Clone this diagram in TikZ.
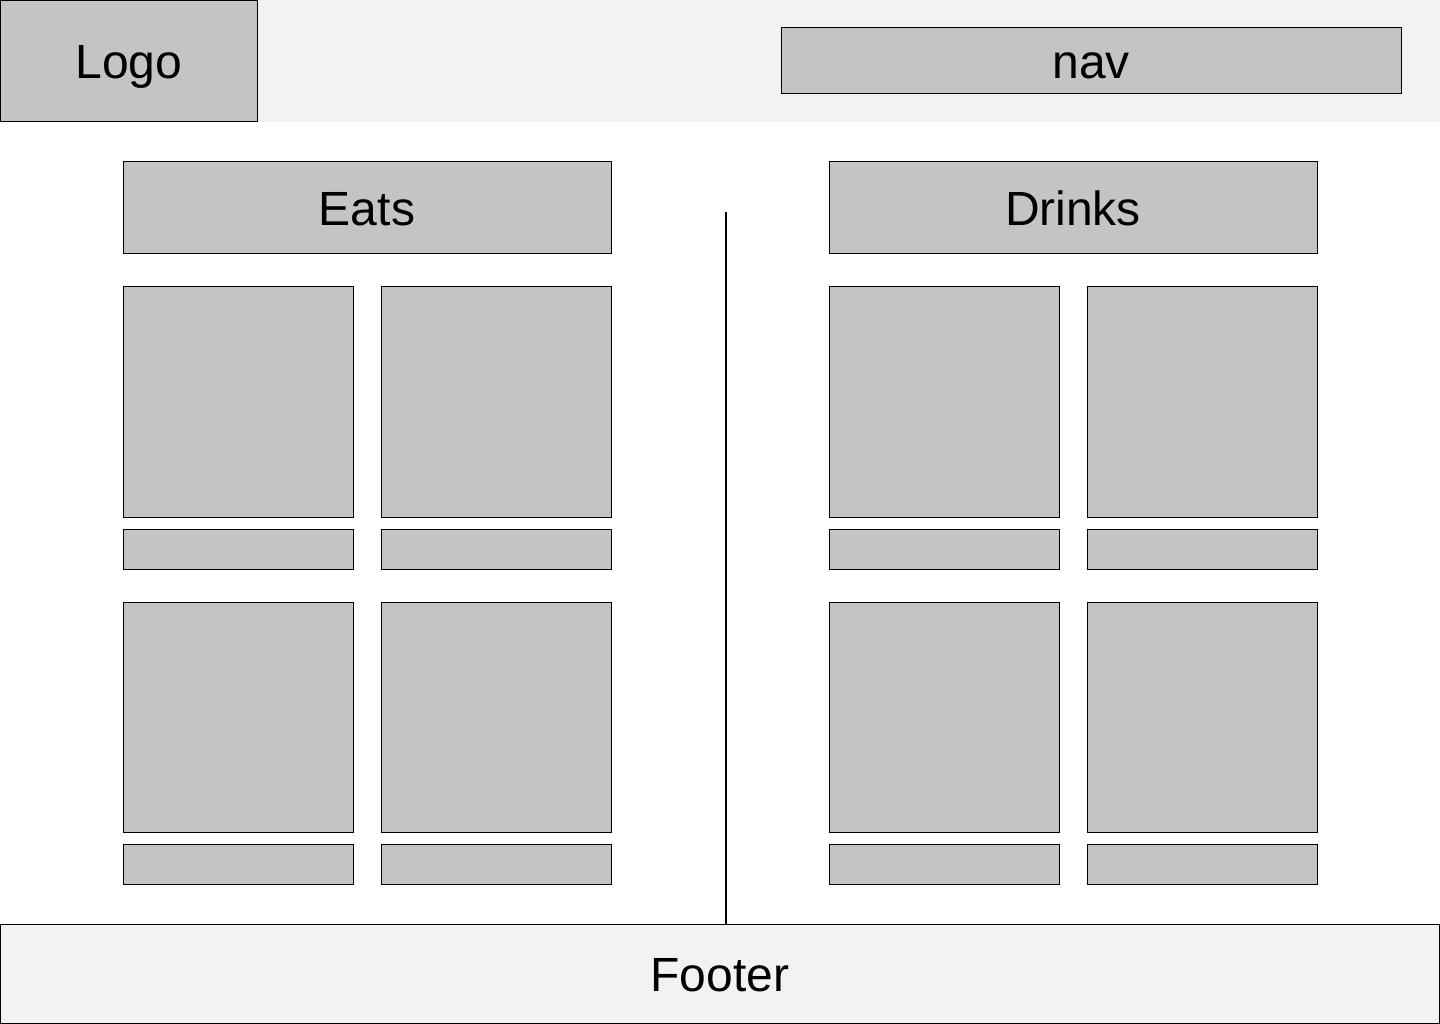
\documentclass[tikz,border=0pt]{standalone}
\usepackage{fontspec}
\setmainfont{Liberation Sans}
\usetikzlibrary{positioning}
\newlength{\cardwidth}
\newlength{\cardheight}
\newlength{\captionheight}
\newlength{\captiongap}
\setlength{\cardwidth}{230pt}
\setlength{\cardheight}{230pt}
\setlength{\captionheight}{40pt}
\setlength{\captiongap}{12pt}
\definecolor{blockcolor}{RGB}{196,196,196}
\definecolor{bandcolor}{RGB}{242,242,242}
\tikzstyle{every node} = [inner sep=0, outer sep=0]
\tikzstyle{block} = [draw=black, fill=blockcolor, line width=1pt, anchor=north west, text height=35pt, text depth=0pt, font=\fontsize{48}{56}\selectfont]
\tikzstyle{band} = [draw=black, fill=bandcolor, line width=1pt, anchor=north west, text height=35pt, text depth=0pt, font=\fontsize{48}{56}\selectfont]
\tikzstyle{cardbox} = [block, minimum width=\cardwidth, minimum height=\cardheight]
\tikzstyle{captionbox} = [block, minimum width=\cardwidth, minimum height=\captionheight]
\tikzstyle{divider} = [draw=black, line width=1.6pt]
\newcommand{\menucard}[3]{
	\node[cardbox] (#1) at (#2,#3) {};
	\node[captionbox, below=\captiongap of #1.south west, anchor=north west] (#1cap) {};
}

\begin{document}
\begin{tikzpicture}[x=1pt, y=-1pt]
	\useasboundingbox (0,0) rectangle (1440,1024);
	
	% header
	\fill[bandcolor] (0,0) rectangle (1440,122);
	\node[block, minimum width=257pt, minimum height=121pt] (logo) at (0.5,0.5) {Logo};
	\node[block, minimum width=620pt, minimum height=66pt] (nav) at (781,28) {nav};
	
	% eats column
	\node[block, minimum width=488pt, minimum height=92pt] (eats) at (123,162) {Eats};
	\menucard{eatsA}{123}{287}
	\menucard{eatsB}{381}{287}
	\menucard{eatsC}{123}{602}
	\menucard{eatsD}{381}{602}
	
	% drinks column
	\node[block, minimum width=488pt, minimum height=92pt] (drinks) at (829,162) {Drinks};
	\menucard{drinksA}{829}{287}
	\menucard{drinksB}{1087}{287}
	\menucard{drinksC}{829}{602}
	\menucard{drinksD}{1087}{602}
	
	% footer
	\node[band, minimum width=1439pt, minimum height=99pt] (footer) at (0.5,924.5) {Footer};
	
	\coordinate (divtop) at (726,212);
	\draw[divider] (divtop) -- (divtop |- footer.north);
	
\end{tikzpicture}
\end{document}
